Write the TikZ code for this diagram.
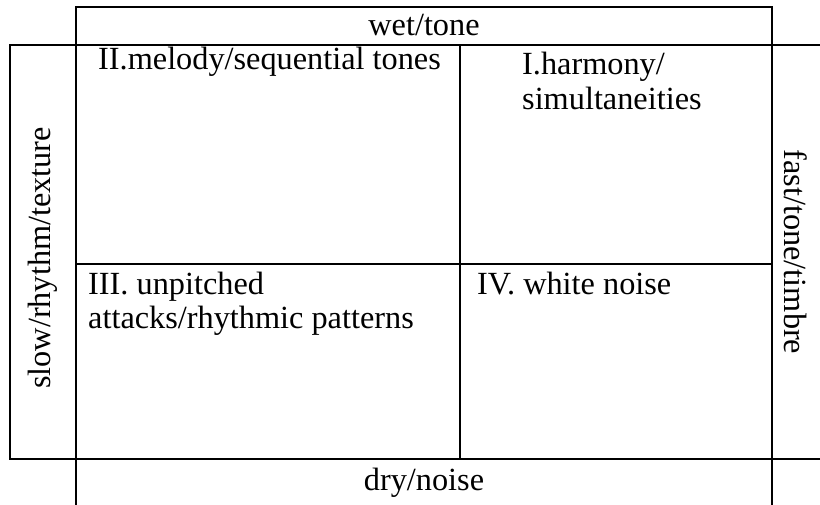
\documentclass[tikz,border=0pt]{standalone}
\usepackage{fontspec}
\setmainfont{Liberation Serif}
\begin{document}
\begin{tikzpicture}[x=1pt,y=-1pt,
  grid/.style={line width=1.6pt, line cap=rect, line join=miter},
  lbl/.style={inner sep=0pt, font=\fontsize{32.3}{35}\selectfont},
  quad/.style={lbl, anchor=base west, align=left}]
\useasboundingbox (0,0) rectangle (820,505);
\coordinate (tl) at (76,7);
\coordinate (tr) at (772,7);
\draw[grid] (76,505) -- (tl) -- (tr) -- (772,505);
\draw[grid] (820,45) -- (10,45) -- (10,459) -- (820,459);
\draw[grid] (460,45) -- (460,459);
\draw[grid] (76,264) -- (772,264);
\node[lbl, anchor=base] (wet) at (424,36) {wet/tone};
\node[lbl, anchor=base] (dry) at (424,490) {dry/noise};
\node[lbl, rotate=90] (slow) at (43,258) {slow/rhythm/texture};
\node[lbl, rotate=-90] (fast) at (796,252) {fast/tone/timbre};
\node[quad] (q2) at (98,70) {II.melody/sequential tones};
\node[quad] (q1) at (522,110) {I.harmony/\\simultaneities};
\node[quad] (q3) at (88,329) {III. unpitched\\attacks/rhythmic patterns};
\node[quad] (q4) at (477,295) {IV. white noise};
\end{tikzpicture}
\end{document}
